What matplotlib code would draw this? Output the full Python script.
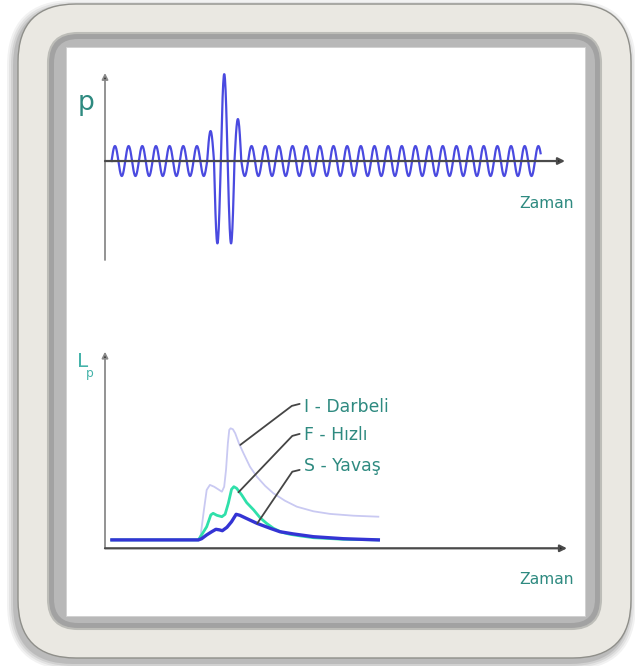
import numpy as np
import matplotlib
matplotlib.use('Agg')
import matplotlib.pyplot as plt
from matplotlib.patches import FancyBboxPatch, Rectangle
from matplotlib import font_manager

# --- top panel: pressure wave, height of each peak / trough (1 = normal wave)
peak_amp = [1.0] * 7 + [2.0, 5.8, 2.8] + [1.0] * 22
trough_amp = [1.0] * 7 + [5.5, 5.5] + [1.0] * 22

# --- bottom panel: Lp curves, time / level in arbitrary units
t_I = [1.5, 20.3, 20.8, 21.5, 22.1, 22.8, 23.7, 24.6, 25.4, 25.9, 26.3, 26.7, 27.0, 27.3,
       27.8, 28.3, 29.1, 30.1, 31.5, 33.0, 34.8, 36.6, 39.1, 41.7, 45.3, 48.9, 54.0, 59.4]
lp_I = [4.2, 4.2, 6.7, 19.2, 29.2, 31.7, 30.8, 29.5, 28.3, 30.8, 39.2, 52.5, 59.2, 60.0,
        59.5, 57.5, 52.5, 47.5, 40.8, 35.8, 31.2, 27.5, 23.8, 20.8, 18.5, 17.2, 16.3, 15.8]

t_F = [1.5, 20.3, 21.0, 22.1, 23.0, 23.5, 24.3, 25.4, 26.1, 26.8, 27.5, 28.0, 28.6, 29.7,
       30.8, 32.3, 33.7, 35.1, 36.6, 38.4, 40.2, 42.4, 45.3, 51.8, 59.4]
lp_F = [4.2, 4.2, 6.7, 10.8, 16.7, 17.5, 16.5, 15.8, 17.0, 22.5, 29.5, 30.8, 30.0, 26.7,
        22.8, 19.2, 15.3, 12.5, 10.0, 8.0, 7.0, 6.2, 5.3, 4.5, 4.2]

t_S = [1.5, 20.3, 21.0, 22.1, 23.2, 24.1, 24.9, 25.5, 26.5, 27.5, 28.5, 29.3, 30.4, 33.0,
       35.9, 38.0, 40.9, 45.3, 51.8, 59.4]
lp_S = [4.2, 4.2, 4.8, 6.7, 8.3, 9.5, 9.2, 8.8, 10.5, 13.3, 17.0, 16.5, 15.3, 12.5,
        10.0, 8.3, 7.2, 5.8, 4.8, 4.2]

labels = ['I - Darbeli', 'F - Hızlı', 'S - Yavaş']
axis_label = 'Zaman'

teal = '#2e8a80'
wave_blue = '#4a4ae0'

names = {f.name for f in font_manager.fontManager.ttflist}
if 'Liberation Sans Narrow' in names:
    fam, k = 'Liberation Sans Narrow', 1.0
else:
    fam, k = 'DejaVu Sans', 0.8
plt.rcParams['font.family'] = [fam, 'DejaVu Sans']

fig = plt.figure(figsize=(6.35, 6.66), dpi=100)
fig.patch.set_facecolor('white')

# frame in pixel coordinates
bg = fig.add_axes([0, 0, 1, 1], zorder=0)
bg.set_xlim(0, 635)
bg.set_ylim(666, 0)
bg.axis('off')

for i, a in enumerate([0.05, 0.06, 0.08, 0.1]):
    g = 8 - 2 * i
    bg.add_patch(FancyBboxPatch((18 - g - 3, 4 - g + 4), 613 + 2 * g, 654 + 2 * g,
                                boxstyle='round,pad=0,rounding_size=%d' % (58 + g),
                                fc='black', ec='none', alpha=a))
bg.add_patch(FancyBboxPatch((18, 4), 613, 654, boxstyle='round,pad=0,rounding_size=58',
                            fc='#eae8e2', ec='#8f8f8a', lw=1.0))
bg.add_patch(FancyBboxPatch((48, 33), 553, 596, boxstyle='round,pad=0,rounding_size=30',
                            fc='#a2a2a2', ec='#bdbdb8', lw=1.5))
bg.add_patch(FancyBboxPatch((54, 39), 541, 584, boxstyle='round,pad=0,rounding_size=24',
                            fc='#b8b8b8', ec='none'))
bg.add_patch(Rectangle((66, 47), 519, 569, fc='white', ec='#d0d0d0', lw=0.6))

bg.text(86, 102.5, 'p', color=teal, fontsize=24 * k, ha='center', va='center')
bg.text(574, 203, axis_label, color=teal, fontsize=14 * k, ha='right', va='center')
bg.text(574, 579, axis_label, color=teal, fontsize=14 * k, ha='right', va='center')
bg.text(82.5, 361.5, 'L', color='#45b3aa', fontsize=18 * k, ha='center', va='center')
bg.text(90, 373, 'p', color='#45b3aa', fontsize=11 * k, ha='center', va='center')

W, H = 635.0, 666.0

# ---- top panel
ax1 = fig.add_axes([105 / W, 1 - 260 / H, 460 / W, 187 / H], zorder=1)
ax1.set_xlim(-0.48, 33.2)
ax1.set_ylim(-6.6, 5.87)
ax1.axis('off')

tt, yy = [], []
for h in range(len(peak_amp) + len(trough_amp)):
    amp = peak_amp[h // 2] if h % 2 == 0 else -trough_amp[h // 2]
    ts = np.linspace(h / 2, (h + 1) / 2, 24)
    tt.append(ts)
    yy.append(amp * np.abs(np.sin(2 * np.pi * ts)))
tt = np.concatenate(tt)
yy = np.concatenate(yy)
keep = tt <= 31.42
ax1.plot(tt[keep], yy[keep], color=wave_blue, lw=1.6, zorder=3, solid_joinstyle='round')

ax1.annotate('', xy=(-0.48, 5.87), xytext=(-0.48, -6.6), annotation_clip=False,
             arrowprops=dict(arrowstyle='-|>', ec='#8a8a8a', fc='#222222', lw=1.3,
                             mutation_scale=9, shrinkA=0, shrinkB=0))
ax1.annotate('', xy=(33.2, 0), xytext=(-0.48, 0), annotation_clip=False,
             arrowprops=dict(arrowstyle='-|>', ec='#4a4a4a', fc='#222222', lw=1.6,
                             mutation_scale=10, shrinkA=0, shrinkB=0))

# ---- bottom panel
ax2 = fig.add_axes([105 / W, 1 - 548.3 / H, 462 / W, 196.6 / H], zorder=1)
ax2.set_xlim(0, 100.4)
ax2.set_ylim(0, 98.3)
ax2.axis('off')

ax2.plot(t_I, lp_I, color='#c9c9f2', lw=1.3, zorder=2)
ax2.plot(t_F, lp_F, color='#2fe0aa', lw=2.0, zorder=3)
ax2.plot(t_S, lp_S, color='#3434d4', lw=2.4, zorder=4)

ax2.annotate('', xy=(0, 98.3), xytext=(0, 0), annotation_clip=False,
             arrowprops=dict(arrowstyle='-|>', ec='#8a8a8a', fc='#222222', lw=1.3,
                             mutation_scale=9, shrinkA=0, shrinkB=0))
ax2.annotate('', xy=(100.4, 0), xytext=(0, 0), annotation_clip=False,
             arrowprops=dict(arrowstyle='-|>', ec='#4a4a4a', fc='#222222', lw=1.6,
                             mutation_scale=10, shrinkA=0, shrinkB=0))

# leader lines and labels
leaders = [((29.4, 51.7), (40.6, 71.2), (42.3, 72.2), 68.2),
           ((29.0, 28.0), (40.7, 56.2), (42.3, 57.2), 54.2),
           ((33.1, 12.5), (40.7, 38.3), (42.3, 39.2), 38.7)]
for (p0, p1, p2, yb), lab in zip(leaders, labels):
    ax2.plot([p0[0], p1[0], p2[0]], [p0[1], p1[1], p2[1]], color='#454545', lw=1.3,
             zorder=5, solid_capstyle='round', solid_joinstyle='round')
    ax2.text(43.2, yb, lab, color=teal, fontsize=15.5 * k, ha='left', va='baseline')

fig.savefig('out.png', dpi=100)
